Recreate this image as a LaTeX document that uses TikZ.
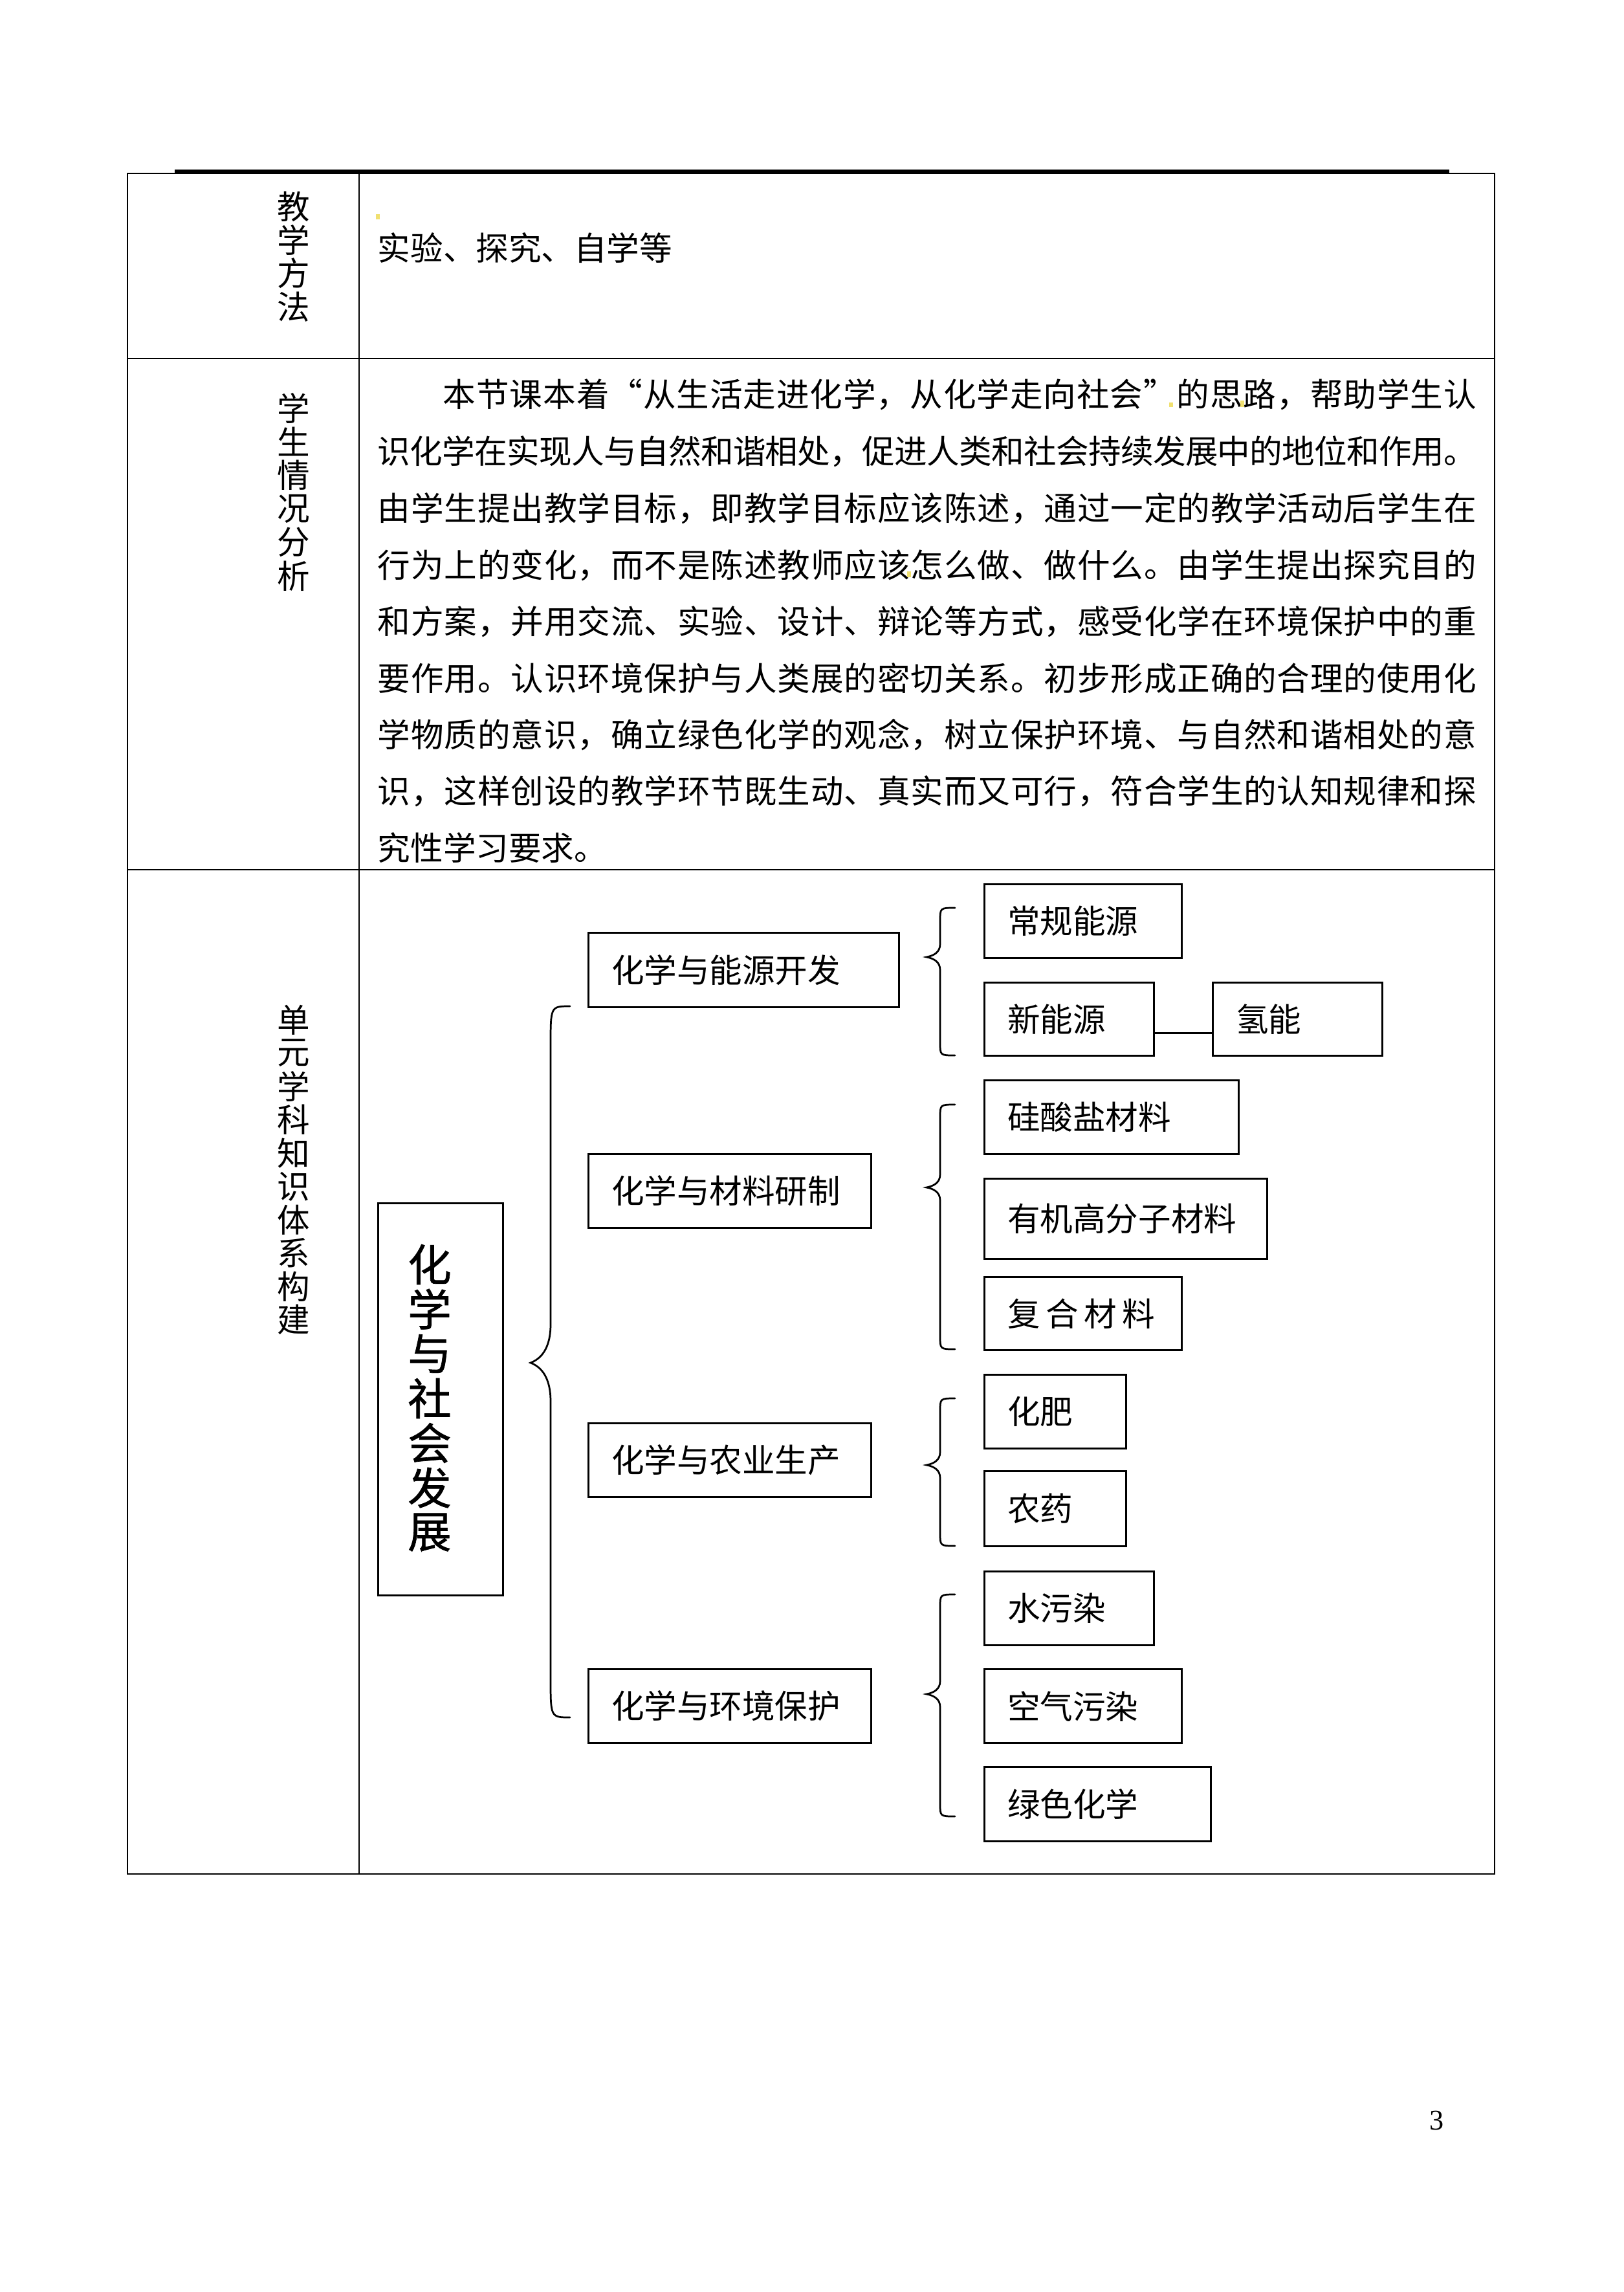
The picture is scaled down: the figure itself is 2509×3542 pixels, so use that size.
\documentclass[tikz,border=0pt]{standalone}
\usepackage{fontspec}
\setmainfont{Noto Sans CJK SC}
\newfontfamily\numfont{Liberation Serif}
\newfontfamily\rootfont[FakeBold=1]{Noto Sans CJK SC}
\usetikzlibrary{positioning}

\definecolor{noteyellow}{RGB}{240,224,112}

% Taille d'un pixel de la page (en pt)
\newcommand{\px}{0.23726}

% Ligne justifiée : un ressort entre chaque caractère
\newcommand{\spreadline}[2]{\makebox[#1][s]{\expandafter\spreadfirst#2\relax}}
\def\spreadfirst#1{#1\spreadrest}
\def\spreadrest#1{\ifx#1\relax\else\hskip 0pt plus 1fil minus 0.4pt #1\expandafter\spreadrest\fi}

% Accolade gauche : pointe x, tige x, bout x, haut y, pointe y, bas y, rayon
\newcommand{\curly}[7]{%
  \draw[brace] (#3,#4) .. controls (#2,#4) and (#2,#4) .. (#2,#4+#7)
    -- (#2,#5-#7) .. controls (#2,#5-0.35*#7) and (#1*0.5+#2*0.5,#5-0.1*#7) .. (#1,#5)
    .. controls (#1*0.5+#2*0.5,#5+0.1*#7) and (#2,#5+0.35*#7) .. (#2,#5+#7)
    -- (#2,#6-#7) .. controls (#2,#6) and (#2,#6) .. (#3,#6);}

\tikzset{
  cell/.style={line width=0.5pt},
  box/.style={draw, line width=0.75pt, inner sep=0pt, anchor=north west},
  wh/.style args={#1x#2}{minimum width=#1*\px pt, minimum height=#2*\px pt},
  tag/.style={label={[anchor=west, xshift=8.6pt, inner sep=0pt]west:#1}},
  brace/.style={line width=0.65pt, line cap=round},
  link/.style={line width=0.75pt},
  notefill/.style={fill=noteyellow},
  vchar/.style={inner sep=0pt},
  para/.style={anchor=west, inner sep=0pt},
}

\begin{document}
\begin{tikzpicture}[x=\px pt, y=-\px pt, font=\fontsize{12}{14}\selectfont]
\useasboundingbox (0,0) rectangle (2509,3542);

% Filet d'en-tête
\draw[line width=1.2pt] (270,265) -- (2240,265);

% ==============================================
% 1. CADRE DU TABLEAU
% ==============================================
\draw[cell] (197,268) rectangle (2310,2896);
\draw[cell] (555,268) -- (555,2896);
\draw[cell] (197,554) -- (2310,554);
\draw[cell] (197,1344) -- (2310,1344);

% Intitulés verticaux de la première colonne
\foreach \ch [count=\i] in {教,学,方,法}
  \node[vchar] (jf\i) at (454, {319+51.6*(\i-1)}) {\ch};
\foreach \ch [count=\i] in {学,生,情,况,分,析}
  \node[vchar] (xs\i) at (454, {631+51.8*(\i-1)}) {\ch};
\foreach \ch [count=\i] in {单,元,学,科,知,识,体,系,构,建}
  \node[vchar] (dy\i) at (454, {1576+51.5*(\i-1)}) {\ch};

% Première ligne : méthodes
\node[para] (ff) at (583,383) {实验、探究、自学等};

% Deuxième ligne : paragraphe justifié
\node[para] (p1) at (684,610) {\spreadline{378.9pt}{本节课本着“从生活走进化学，从化学走向社会”的思路，帮助学生认}};
\foreach \yl/\txt [count=\i from 2] in {
    698/识化学在实现人与自然和谐相处，促进人类和社会持续发展中的地位和作用。,
    786/由学生提出教学目标，即教学目标应该陈述，通过一定的教学活动后学生在,
    874/行为上的变化，而不是陈述教师应该怎么做、做什么。由学生提出探究目的,
    961/和方案，并用交流、实验、设计、辩论等方式，感受化学在环境保护中的重,
    1048/要作用。认识环境保护与人类展的密切关系。初步形成正确的合理的使用化,
    1136/学物质的意识，确立绿色化学的观念，树立保护环境、与自然和谐相处的意,
    1223/识，这样创设的教学环节既生动、真实而又可行，符合学生的认知规律和探}
  \node[para] (p\i) at (583,\yl) {\spreadline{402.9pt}{\txt}};
\node[para] (p9) at (583,1310) {究性学习要求。};

% Petites marques de commentaire
\fill[notefill] (581,331) rectangle (587,339);
\fill[notefill] (1807,622) rectangle (1813,629);
\fill[notefill] (1917,619) rectangle (1923,629);
\fill[notefill] (1402,883) rectangle (1408,892);

% ==============================================
% 2. CARTE DES CONNAISSANCES
% ==============================================
\node[box, wh=193x606] (root) at (583,1858) {};
\foreach \ch [count=\i] in {化,学,与,社,会,发,展}
  \node[vchar, font=\rootfont\fontsize{16}{18}\selectfont] (rt\i) at (664, {1954+69*(\i-1)}) {\ch};

% --- Quatre thèmes ---
\node[box, wh=480x115, tag=化学与能源开发] (nykf) at (908,1440) {};
\node[box, wh=437x114, tag=化学与材料研制] (clyz) at (908,1782) {};
\node[box, wh=437x114, tag=化学与农业生产] (nysc) at (908,2198) {};
\node[box, wh=437x114, tag=化学与环境保护] (hjbh) at (908,2578) {};

% --- Sous-thèmes ---
\node[box, wh=305x114, tag=常规能源] (cgny) at (1520,1365) {};
\node[box, wh=262x113, tag=新能源] (xny) at (1520,1517) {};
\node[box, wh=262x113, tag=氢能, right=20.9pt of xny] (qn) {};
\draw[link] ([yshift=-5pt]xny.east) -- ([yshift=-5pt]qn.west);

\node[box, wh=393x114, tag=硅酸盐材料] (gsy) at (1520,1668) {};
\node[box, wh=437x124, tag=有机高分子材料] (yjg) at (1520,1820) {};
\node[box, wh=305x113, tag={复\,合\,材\,料}] (fhcl) at (1520,1972) {};

\node[box, wh=219x114, tag=化肥] (hf) at (1520,2123) {};
\node[box, wh=219x116, tag=农药] (ny) at (1520,2272) {};

\node[box, wh=262x114, tag=水污染] (wwr) at (1520,2427) {};
\node[box, wh=305x114, tag=空气污染] (kqwr) at (1520,2578) {};
\node[box, wh=350x115, tag=绿色化学] (lshx) at (1520,2729) {};

% --- Accolades ---
\curly{820}{851}{881}{1555}{2106}{2654}{60}
\curly{1432}{1453}{1476}{1403}{1479}{1631}{20}
\curly{1432}{1453}{1476}{1707}{1835}{2085}{20}
\curly{1432}{1453}{1476}{2161}{2264}{2389}{20}
\curly{1432}{1453}{1476}{2464}{2618}{2807}{20}

% Numéro de page
\node[font=\numfont\fontsize{10.5}{12}\selectfont, inner sep=0pt] (pg) at (2221,3277) {3};

\end{tikzpicture}
\end{document}
